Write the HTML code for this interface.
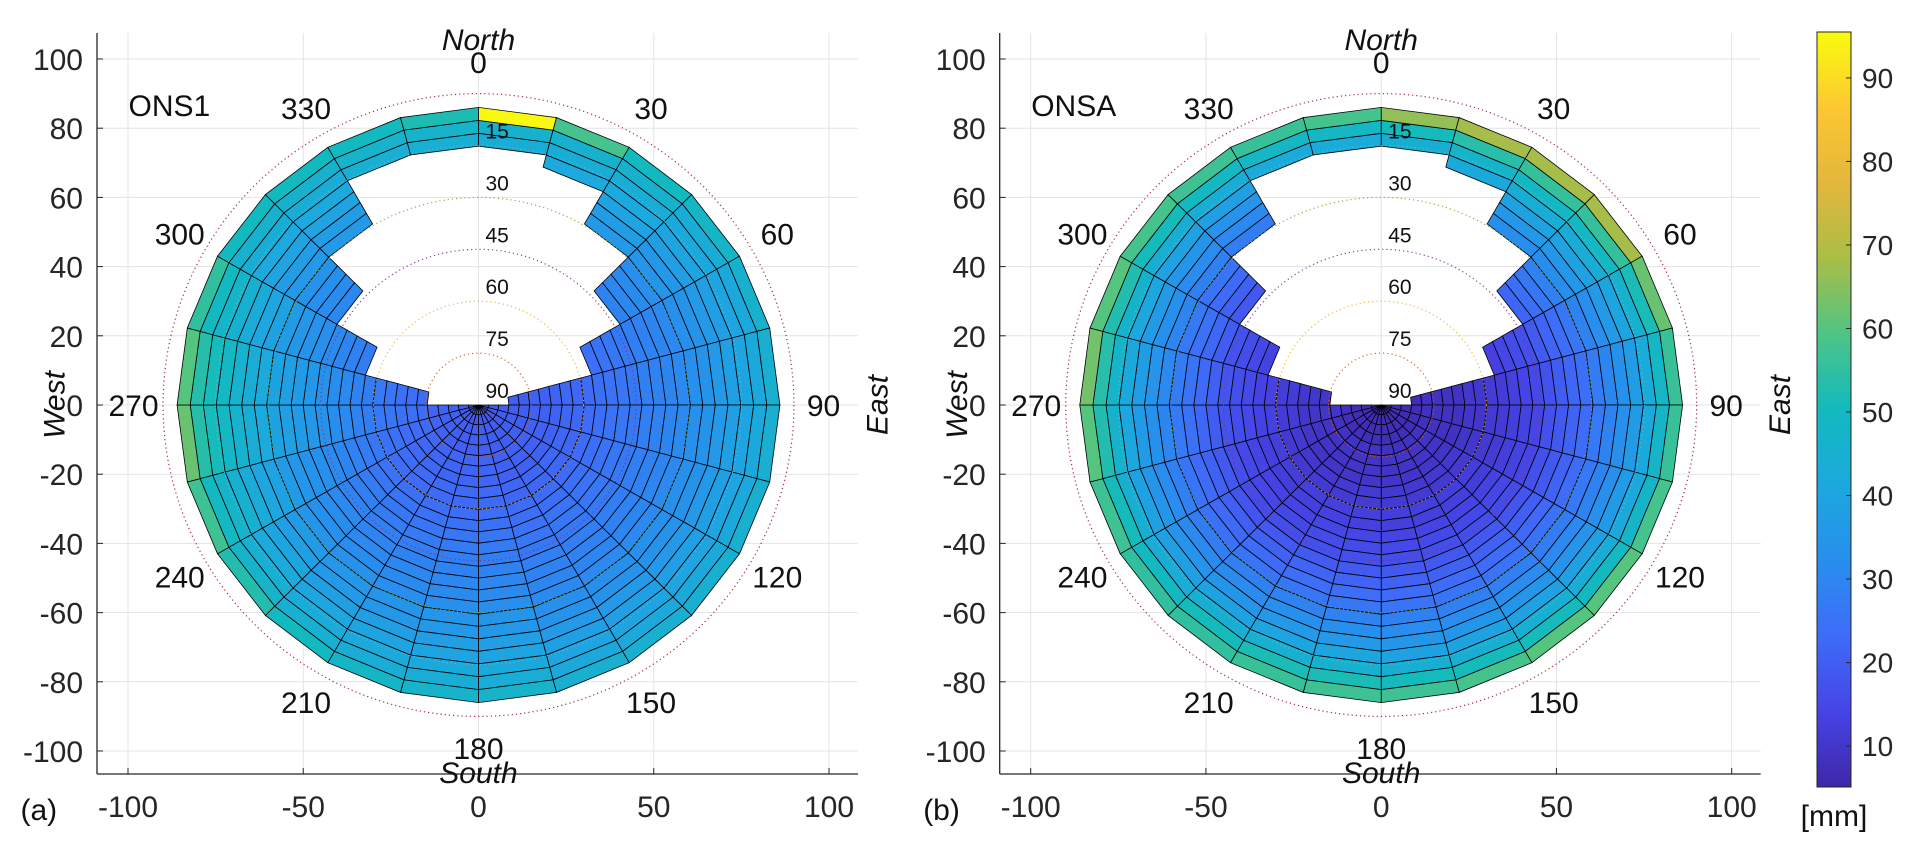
<!DOCTYPE html>
<html><head><meta charset="utf-8"><style>
html,body{margin:0;padding:0;background:#fff;}
svg{display:block;font-family:"Liberation Sans",sans-serif;}
</style></head><body>
<svg id="fig" width="1929" height="848" viewBox="0 0 1929 848" xmlns="http://www.w3.org/2000/svg">
<defs><linearGradient id="cbgrad" x1="0" y1="1" x2="0" y2="0"></linearGradient></defs>
</svg>
<script>
// ---- data ----
const azBins = [0,15,30,45,60,75,90,105,120,135,150,165,180,195,210,225,240,255,270,285,300,315,330,345];
const innerRadius = [76,72,60.5,46.5,32,9,0,0,0,0,0,0,0,0,0,0,0,0,13,32,46.7,60.5,72.5,73];
const profileA = [19,19,20,20,20,21,21,21,22,22,23,24,25,26,27,28,29,30,31,33,34,36,38,40,42,44];
const azOffsetA = [4,4,4,2,0,0,0,0,0,0,0,2,2,2,3,5,8,12,12,8,4,4,5,5];
const outerA = [95,58,50,48,46,45,45,45,45,45,45,47,47,48,50,53,57,62,60,55,50,50,50,52];
const profileB = [7,7,7,7,8,8,8,8,9,9,10,10,11,12,13,15,17,19,21,24,27,30,34,39,45,50];
const azOffsetB = [6,9,11,11,7,4,3,3,5,6,6,6,7,7,6,5,6,8,9,8,6,5,4,4];
const outerB = [66,68,68,68,62,56,56,58,60,60,58,57,57,56,55,55,57,60,63,60,58,57,56,58];
const elevLabels = [15,30,45,60,75,90];
const azLabels = [0,30,60,90,120,150,180,210,240,270,300,330];
const xTicks = [-100,-50,0,50,100];
const yTicks = [-100,-80,-60,-40,-20,0,20,40,60,80,100];
const cbTicks = [10,20,30,40,50,60,70,80,90];
const cbMin = 5.1, cbMax = 95.5;

const NS='http://www.w3.org/2000/svg';
const svg=document.getElementById('fig');
function mk(tag,attrs,parent){const e=document.createElementNS(NS,tag);for(const k in attrs)e.setAttribute(k,attrs[k]);(parent||svg).appendChild(e);return e;}

const parula=[[0,62,38,168],[0.1,70,68,230],[0.2,62,108,248],[0.3,40,142,238],[0.4,28,168,222],[0.5,18,186,190],[0.6,78,196,132],[0.7,170,190,70],[0.8,228,182,60],[0.9,253,200,50],[1,249,251,14]];
function cmap(v){let t=(v-cbMin)/(cbMax-cbMin);t=Math.max(0,Math.min(1,t));
 for(let i=0;i<parula.length-1;i++){const a=parula[i],b=parula[i+1];if(t<=b[0]){const f=(t-a[0])/(b[0]-a[0]);
 return 'rgb('+[1,2,3].map(j=>Math.round(a[j]+(b[j]-a[j])*f)).join(',')+')';}}return 'rgb(249,251,14)';}

const grad=document.getElementById('cbgrad');
for(let i=0;i<=40;i++){const s=document.createElementNS(NS,'stop');s.setAttribute('offset',(i/40));s.setAttribute('stop-color',cmap(cbMin+(cbMax-cbMin)*i/40));grad.appendChild(s);}

const NR=26, rOuter=86;
const aR=rOuter/30.3, bR=0.33*aR/52;
function ringR(k){return (aR*k+bR*k*k)*rOuter/((aR*26+bR*676));}

function panel(cfg){
 const g=mk('g',{});  
 const cx=cfg.cx, cy=405, sx=3.505, sy=3.46;
 const X=u=>cx+u*sx, Y=u=>cy-u*sy;
 const L=cfg.cx-381.5, R=cfg.cx+379.5, T=33, B=774;
 const grid=mk('g',{},g);  
 xTicks.forEach(t=>{mk('line',{x1:X(t),x2:X(t),y1:T,y2:B,stroke:'#e3e3e3','stroke-width':1},grid);});
 yTicks.forEach(t=>{mk('line',{x1:L,x2:R,y1:Y(t),y2:Y(t),stroke:'#e3e3e3','stroke-width':1},grid);});
 const pg=mk('g',{},g);  
 for(let j=0;j<azBins.length;j++){
  const a0=azBins[j]*Math.PI/180,a1=(azBins[j]+15)*Math.PI/180;
  for(let k=0;k<NR;k++){
   const r0=ringR(k),r1=ringR(k+1);
   if(r0<innerRadius[j]-1.2) continue;
   let v = (k===NR-1)?cfg.outer[j]:cfg.profile[k]+cfg.off[j]*(k/(NR-1));
   const pts=[[r0,a0],[r1,a0],[r1,a1],[r0,a1]].map(p=>X(p[0]*Math.sin(p[1])).toFixed(1)+','+Y(p[0]*Math.cos(p[1])).toFixed(1)).join(' ');
   const p=mk('polygon',{points:pts,fill:cmap(v),stroke:'#000','stroke-width':0.8},pg);
   
   
  }
 }
 const circCols={0:'#A2142F',15:'#4DBEEE',30:'#77AC30',45:'#7E2F8E',60:'#EDB120',75:'#D95319'};
 [0,15,30,45,60,75].forEach(e=>{const r=90-e;const c=mk('ellipse',{cx:cx,cy:cy,rx:r*sx,ry:r*sy,fill:'none',stroke:circCols[e],'stroke-width':1.2,'stroke-dasharray':'1.2 3','opacity':0.9},g);
   });
 elevLabels.forEach(e=>{const t=mk('text',{x:cx+7,y:Y(90-e)-7,'font-size':21,fill:'#111'},g);t.textContent=e;
   });
 azLabels.forEach(a=>{const rad=a*Math.PI/180;const t=mk('text',{x:cx+345*Math.sin(rad),y:cy-343*Math.cos(rad)+11,'font-size':30,'text-anchor':'middle',fill:'#111'},g);t.textContent=a;
   });
 mk('line',{x1:L,x2:L,y1:T,y2:B,stroke:'#262626','stroke-width':1.3},g);
 mk('line',{x1:L,x2:R,y1:B,y2:B,stroke:'#262626','stroke-width':1.3},g);
 xTicks.forEach(t=>{mk('line',{x1:X(t),x2:X(t),y1:B,y2:B-6,stroke:'#262626','stroke-width':1},g);
  const e=mk('text',{x:X(t),y:817,'font-size':30,'text-anchor':'middle',fill:'#262626'},g);e.textContent=t;
   });
 yTicks.forEach(t=>{mk('line',{x1:L,x2:L+6,y1:Y(t),y2:Y(t),stroke:'#262626','stroke-width':1},g);
  const e=mk('text',{x:L-14,y:Y(t)+11,'font-size':30,'text-anchor':'end',fill:'#262626'},g);e.textContent=t;
   });
 const txt=(s,attrs,name)=>{const e=mk('text',attrs,g);e.textContent=s;return e;};
 txt('North',{x:cx,y:50,'font-size':30,'font-style':'italic','text-anchor':'middle',fill:'#111'},'north-label');
 txt('South',{x:cx,y:783,'font-size':30,'font-style':'italic','text-anchor':'middle',fill:'#111'},'south-label');
 txt('West',{x:0,y:0,'font-size':30,'font-style':'italic','text-anchor':'middle',fill:'#111',transform:'translate('+(cx-414)+','+cy+') rotate(-90)'},'west-label');
 txt('East',{x:0,y:0,'font-size':30,'font-style':'italic','text-anchor':'middle',fill:'#111',transform:'translate('+(cx+409)+','+cy+') rotate(-90)'},'east-label');
 txt(cfg.station,{x:cx-350,y:116,'font-size':30,fill:'#111'},'station-label');
 txt(cfg.letter,{x:cx-458,y:820,'font-size':30,fill:'#111'},'panel-letter');
}
panel({name:'panel-ons1',cx:478.5,station:'ONS1',letter:'(a)',profile:profileA,off:azOffsetA,outer:outerA});
panel({name:'panel-onsa',cx:1381.2,station:'ONSA',letter:'(b)',profile:profileB,off:azOffsetB,outer:outerB});

const cb=mk('g',{});  
const cbT=32,cbB=787,cbL=1817,cbR=1851;
const cbY=v=>cbB-(v-cbMin)/(cbMax-cbMin)*(cbB-cbT);
mk('rect',{x:cbL,y:cbT,width:cbR-cbL,height:cbB-cbT,fill:'url(#cbgrad)',stroke:'#262626','stroke-width':1},cb);
cbTicks.forEach(t=>{mk('line',{x1:cbR-5,x2:cbR,y1:cbY(t),y2:cbY(t),stroke:'#262626','stroke-width':1},cb);
 const e=mk('text',{x:1862,y:cbY(t)+10,'font-size':28,fill:'#262626'},cb);e.textContent=t;
  });
const u=mk('text',{x:1834,y:826,'font-size':30,'text-anchor':'middle',fill:'#111'},cb);u.textContent='[mm]';
 
</script>
</body></html>
